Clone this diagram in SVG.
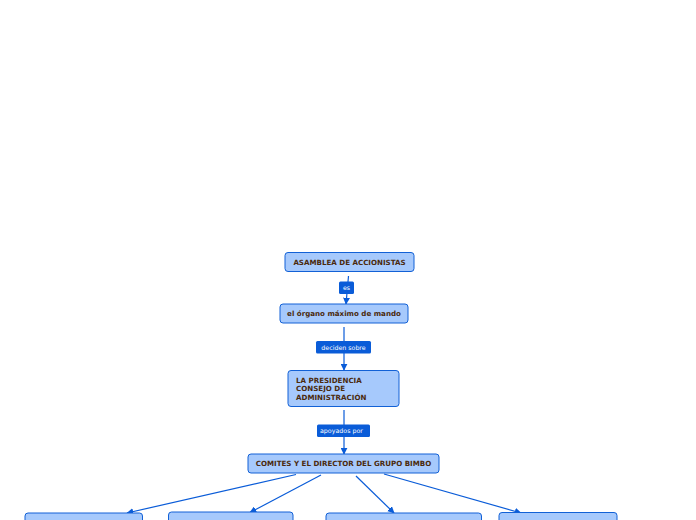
<svg xmlns="http://www.w3.org/2000/svg" width="696" height="520" viewBox="0 0 696 520">
<defs>
<style>
.node rect{fill:#a6c9fc;stroke:#1261d6;stroke-width:1}
.node text{font-family:"DejaVu Sans",Verdana,sans-serif;font-weight:bold;font-size:7.1px;fill:#4a2a0c}
.lbl rect{fill:#0a5cd8}
.lbl text{font-family:"DejaVu Sans",Verdana,sans-serif;font-size:6.3px;fill:#ffffff}
.conn line{stroke:#0a5cd8;stroke-width:1.2;fill:none}
</style>
<marker id="arr" viewBox="0 0 10 10" refX="9" refY="5" markerWidth="7" markerHeight="7" markerUnits="userSpaceOnUse" orient="auto">
<path d="M0,0 L10,5 L0,10 z" fill="#0a5cd8"/>
</marker>
</defs>
<rect width="696" height="520" fill="#ffffff"/>
<g id="connectors" class="conn">
<line x1="348.5" y1="276" x2="346" y2="304" marker-end="url(#arr)"/>
<line x1="344" y1="327" x2="344" y2="370" marker-end="url(#arr)"/>
<line x1="344" y1="410" x2="344" y2="454" marker-end="url(#arr)"/>
<line x1="296" y1="474.5" x2="127" y2="513" marker-end="url(#arr)"/>
<line x1="321" y1="475" x2="250" y2="512.5" marker-end="url(#arr)"/>
<line x1="356" y1="476" x2="394" y2="513" marker-end="url(#arr)"/>
<line x1="384" y1="474" x2="521" y2="513" marker-end="url(#arr)"/>
</g>
<g id="label-es" class="lbl"><rect x="339" y="281.5" width="15" height="12.5" rx="1.5"/><text x="346.5" y="290" text-anchor="middle">es</text></g>
<g id="label-deciden" class="lbl"><rect x="316" y="341" width="55" height="12.5" rx="1.5"/><text x="343.5" y="349.5" text-anchor="middle">deciden sobre</text></g>
<g id="label-apoyados" class="lbl"><rect x="317" y="424.5" width="53" height="12.5" rx="1.5"/><text x="320" y="433">apoyados por</text></g>
<g id="n1" class="node"><rect x="285" y="252.5" width="129" height="19" rx="3"/><text x="349.5" y="264.8" text-anchor="middle">ASAMBLEA DE ACCIONISTAS</text></g>
<g id="n2" class="node"><rect x="280" y="304" width="128" height="19" rx="3"/><text x="344" y="316.3" text-anchor="middle">el órgano máximo de mando</text></g>
<g id="n3" class="node"><rect x="288" y="370.5" width="111" height="36" rx="3"/><text x="296" y="383">LA PRESIDENCIA</text><text x="296" y="391.3">CONSEJO DE</text><text x="296" y="399.8">ADMINISTRACIÓN</text></g>
<g id="n4" class="node"><rect x="248" y="454" width="191" height="19" rx="3"/><text x="343.5" y="466.3" text-anchor="middle">COMITES Y EL DIRECTOR DEL GRUPO BIMBO</text></g>
<g id="n5" class="node"><rect x="25" y="513" width="117.5" height="20" rx="3"/></g>
<g id="n6" class="node"><rect x="168.5" y="512" width="124.5" height="20" rx="3"/></g>
<g id="n7" class="node"><rect x="326" y="513" width="155.5" height="20" rx="3"/></g>
<g id="n8" class="node"><rect x="499" y="512.5" width="118" height="20" rx="3"/></g>
</svg>
